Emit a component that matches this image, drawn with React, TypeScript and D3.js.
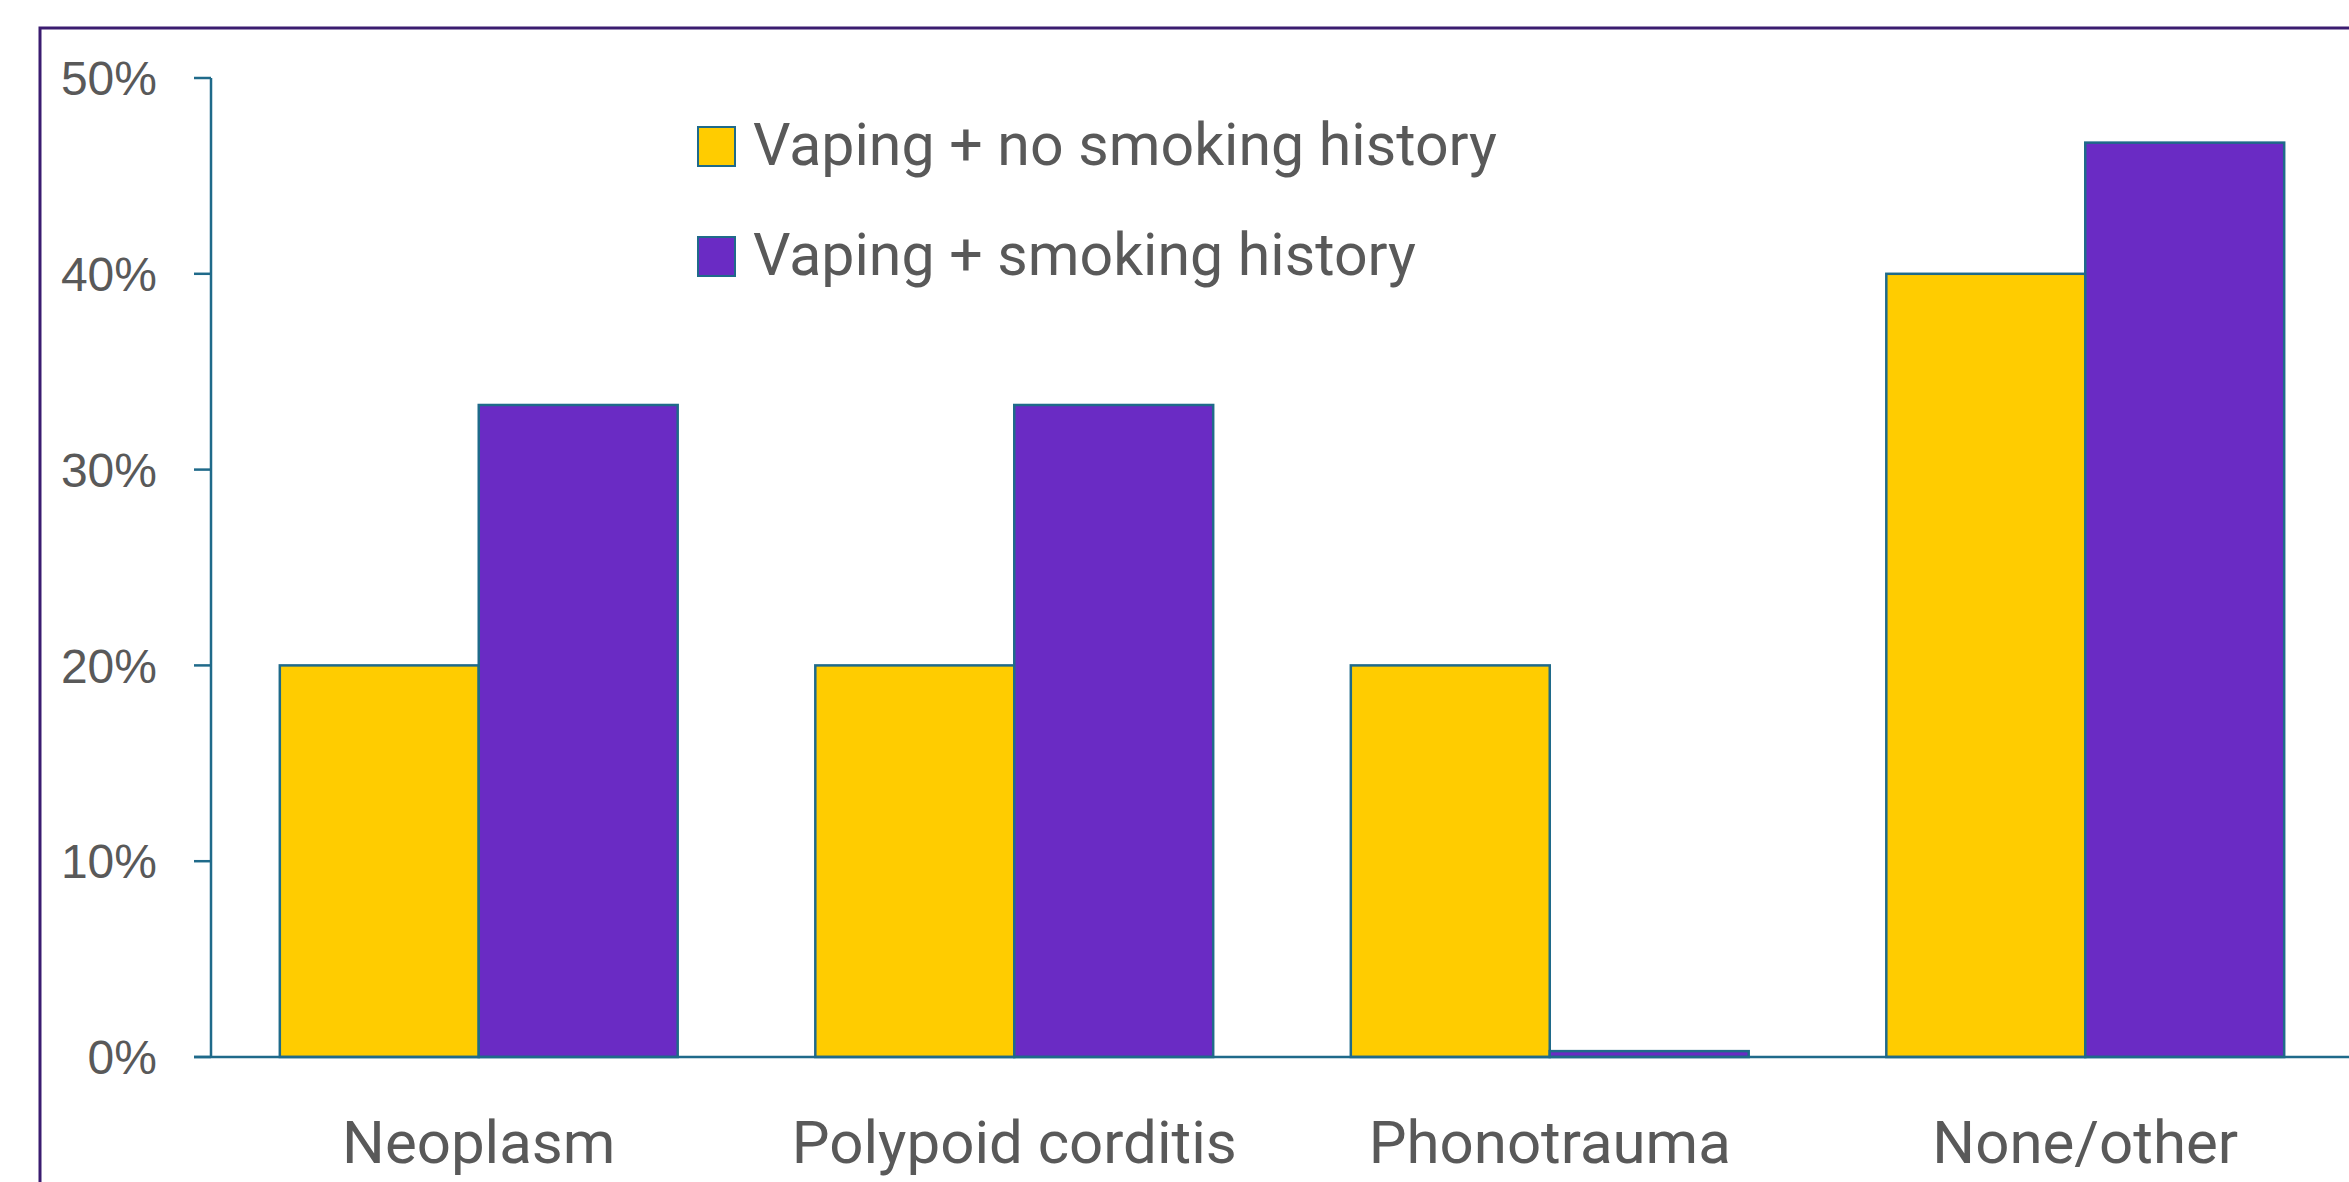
import React from "react";
import * as d3 from "d3";

const categories = ["Neoplasm", "Polypoid corditis", "Phonotrauma", "None/other"];
const seriesNames = ["Vaping + no smoking history", "Vaping + smoking history"];
const noSmoking = [20, 20, 20, 40];
const smoking = [33.3, 33.3, 0.3, 46.7];
const yTicks = [0, 10, 20, 30, 40, 50];
const colors = ["#FFCC00", "#6A2BC4"];

const W = 2349;
const H = 1182;

export default function App() {
  const axisX = 211;
  const y0 = 1057;
  const yTop = 78;
  const y = d3.scaleLinear().domain([0, 50]).range([y0, yTop]);
  const x = d3
    .scaleBand<string>()
    .domain(categories)
    .range([axisX, axisX + 4 * 535.5])
    .paddingInner(0.257)
    .paddingOuter(0.1285);
  const inner = d3.scaleBand<string>().domain(seriesNames).range([0, x.bandwidth()]);
  const series = [noSmoking, smoking];
  const stroke = "#1F6A8A";

  return (
    <svg
      width={W}
      height={H}
      style={{ position: "absolute", left: 0, top: 0, background: "#fff" }}
    >
      <rect x={40} y={28} width={2400} height={1300} fill="#fff" stroke="#3B1C70" strokeWidth={3} />
      {/* bars */}
      {categories.map((c, i) =>
        series.map((s, j) => (
          <rect
            key={c + j}
            x={(x(c) as number) + (inner(seriesNames[j]) as number)}
            y={y(s[i])}
            width={inner.bandwidth()}
            height={y0 - y(s[i])}
            fill={colors[j]}
            stroke={stroke}
            strokeWidth={2.5}
          />
        ))
      )}
      {/* y axis */}
      <line x1={axisX} x2={axisX} y1={yTop} y2={y0} stroke={stroke} strokeWidth={2.5} />
      {yTicks.map((t) => (
        <g key={t}>
          <line x1={194} x2={axisX} y1={y(t)} y2={y(t)} stroke={stroke} strokeWidth={2.5} />
          <text
            x={157}
            y={y(t)}
            dy="0.36em"
            textAnchor="end"
            fontFamily="'Liberation Sans', Arial, sans-serif"
            fontSize={48}
            fill="#595959"
          >
            {t}%
          </text>
        </g>
      ))}
      {/* x axis */}
      <line x1={194} x2={W} y1={y0} y2={y0} stroke={stroke} strokeWidth={2.5} />
      {categories.map((c) => (
        <text
          key={c}
          x={(x(c) as number) + x.bandwidth() / 2}
          y={1163}
          textAnchor="middle"
          fontFamily="Roboto, sans-serif"
          fontSize={60}
          fill="#595959"
        >
          {c}
        </text>
      ))}
      {/* legend */}
      {seriesNames.map((n, j) => (
        <g key={n}>
          <rect
            x={698}
            y={127 + j * 110}
            width={37}
            height={39}
            fill={colors[j]}
            stroke={stroke}
            strokeWidth={2}
          />
          <text
            x={753}
            y={165 + j * 110}
            fontFamily="Roboto, sans-serif"
            fontSize={60}
            fill="#595959"
            textLength={j === 0 ? 744 : 663}
            lengthAdjust="spacingAndGlyphs"
          >
            {n}
          </text>
        </g>
      ))}
    </svg>
  );
}
